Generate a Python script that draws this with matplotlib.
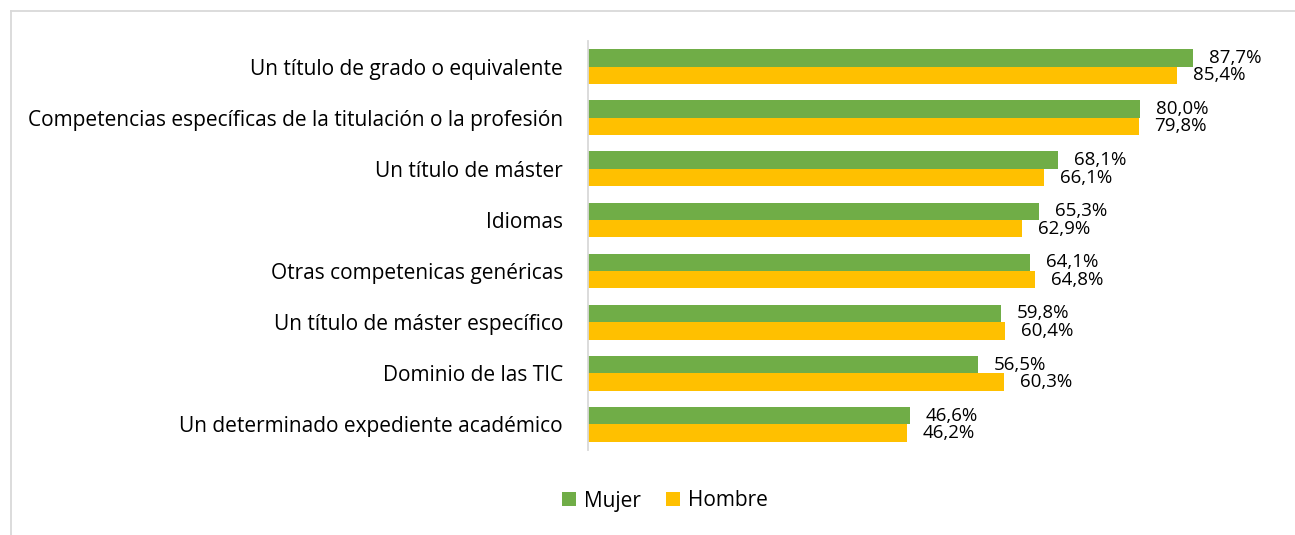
import matplotlib
matplotlib.use("Agg")
import matplotlib.pyplot as plt
from matplotlib.lines import Line2D

categories = [
    "Un título de grado o equivalente",
    "Competencias específicas de la titulación o la profesión",
    "Un título de máster",
    "Idiomas",
    "Otras competenicas genéricas",
    "Un título de máster específico",
    "Dominio de las TIC",
    "Un determinado expediente académico",
]
mujer = [87.7, 80.0, 68.1, 65.3, 64.1, 59.8, 56.5, 46.6]
hombre = [85.4, 79.8, 66.1, 62.9, 64.8, 60.4, 60.3, 46.2]
series_names = ["Mujer", "Hombre"]

GREEN = "#70AD47"
ORANGE = "#FFC000"
FONT = "Open Sans"

plt.rcParams["font.family"] = [FONT, "DejaVu Sans"]

fig = plt.figure(figsize=(12.95, 5.35), dpi=100)
# chart border (top and left visible)
bx = 10.5 / 1295
by = 1 - 10.5 / 535
fig.lines.append(Line2D([bx, 1.01], [by, by], transform=fig.transFigure,
                        color="#D9D9D9", linewidth=1.3))
fig.lines.append(Line2D([bx, bx], [-0.01, by], transform=fig.transFigure,
                        color="#D9D9D9", linewidth=1.3))

ax = fig.add_axes([588 / 1295, 1 - 450 / 535, 690 / 1295, 409 / 535])

h = 0.34
y = list(range(len(categories)))
b1 = ax.barh([v - h / 2 for v in y], mujer, height=h, color=GREEN, label=series_names[0])
b2 = ax.barh([v + h / 2 for v in y], hombre, height=h, color=ORANGE, label=series_names[1])

def fmt(v):
    return f"{v:.1f}%".replace(".", ",")

for bars, vals in ((b1, mujer), (b2, hombre)):
    for rect, v in zip(bars, vals):
        ax.annotate(fmt(v), (rect.get_width(), rect.get_y() + rect.get_height() / 2),
                    xytext=(16, 0), textcoords="offset pixels",
                    va="center", ha="left", fontsize=13.5, color="#000000")

ax.set_xlim(0, 100)
ax.set_ylim(len(categories) - 0.5, -0.5)
ax.set_yticks(y)
ax.set_yticklabels(categories, fontsize=15)
ax.tick_params(axis="y", length=0, pad=18)
ax.set_xticks([])
for s in ("top", "right", "bottom"):
    ax.spines[s].set_visible(False)
ax.spines["left"].set_color("#D9D9D9")
ax.spines["left"].set_linewidth(1.3)

leg = fig.legend(handles=[b1, b2], labels=series_names, loc="center",
                 bbox_to_anchor=(665 / 1295, 1 - 501 / 535), ncol=2, frameon=False,
                 fontsize=15, handlelength=0.65, handleheight=0.65, handletextpad=0.4,
                 columnspacing=1.2)

fig.savefig("out.png", dpi=100)
